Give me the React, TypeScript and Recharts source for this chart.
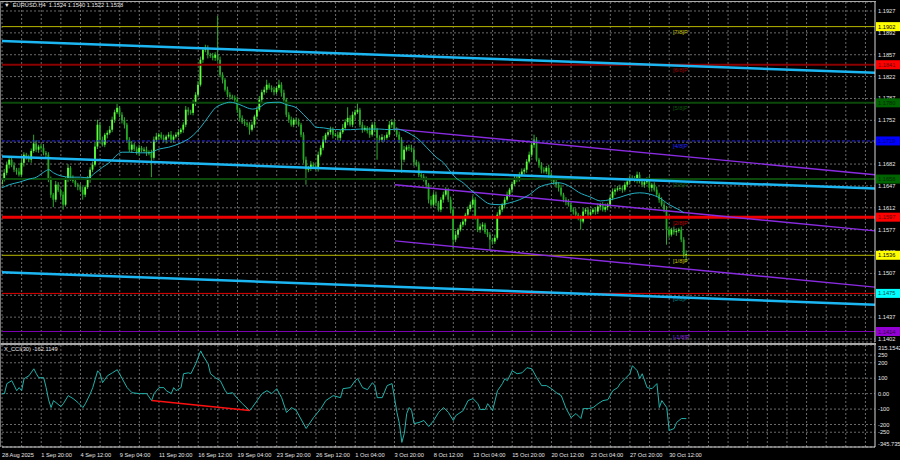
import React from "react";
import {
  ComposedChart,
  Bar,
  Line,
  XAxis,
  YAxis,
  CartesianGrid,
  ReferenceLine,
} from "recharts";

const FONT = "'Liberation Sans', Arial, sans-serif";
const BASE = 1.14;
const PIP = 0.0001;
const FIRST_OPEN = 250;
const XMAX = 355.9;
const Y_MIN = 1.13972;
const Y_MAX = 1.19414;

// H4 closes in pips above 1.1400, one per bar starting 28 Aug 08:00
const closes = [
  257, 268, 281, 289, 280, 273, 270, 265, 284, 297, 292, 289, 303, 315, 305, 310, 308, 300, 297, 257,
  233, 225, 249, 240, 233, 217, 257, 276, 260, 255, 249, 246, 241, 233, 245, 257, 273, 281, 310, 345,
  321, 313, 329, 332, 337, 353, 365, 372, 361, 352, 345, 321, 305, 313, 306, 301, 308, 304, 305, 300,
  301, 292, 321, 326, 329, 324, 321, 326, 329, 321, 326, 329, 333, 337, 345, 369, 366, 364, 380, 393,
  409, 449, 465, 468, 457, 455, 452, 457, 449, 425, 417, 401, 393, 390, 388, 385, 369, 356, 349, 347,
  345, 337, 345, 358, 369, 385, 397, 401, 409, 404, 401, 397, 404, 409, 396, 385, 361, 353, 345, 353,
  350, 345, 329, 289, 273, 276, 281, 278, 276, 297, 308, 321, 329, 333, 337, 329, 329, 324, 333, 340,
  349, 356, 345, 361, 365, 369, 345, 337, 340, 335, 329, 345, 337, 324, 321, 325, 324, 329, 345, 349,
  338, 329, 321, 289, 305, 309, 308, 305, 285, 281, 265, 262, 257, 249, 225, 217, 233, 220, 209, 225,
  233, 241, 225, 209, 161, 169, 177, 185, 190, 201, 210, 217, 225, 196, 177, 182, 185, 173, 169, 161,
  158, 164, 201, 209, 217, 225, 233, 241, 250, 257, 260, 265, 270, 273, 286, 297, 313, 321, 289, 280,
  273, 270, 276, 265, 257, 253, 249, 244, 233, 225, 221, 217, 209, 206, 201, 196, 190, 206, 209, 201,
  205, 209, 206, 214, 217, 209, 213, 217, 228, 238, 241, 243, 244, 241, 249, 254, 260, 258, 257, 265,
  254, 249, 253, 257, 244, 249, 241, 233, 225, 217, 209, 177, 169, 177, 173, 175, 177, 161, 137, 138,
];

// upper / lower shadow length in pips
const highWicks = [
  4, 6, 5, 3, 4, 5, 3, 6, 5, 4, 3, 5, 4, 14, 5, 3, 4, 6, 3, 4,
  5, 3, 6, 4, 3, 5, 4, 6, 3, 4, 5, 3, 4, 5, 3, 6, 4, 5, 6, 8,
  4, 5, 3, 4, 6, 5, 4, 7, 3, 4, 5, 3, 4, 6, 3, 4, 5, 3, 4, 5,
  3, 4, 5, 6, 3, 4, 5, 3, 4, 6, 3, 4, 5, 3, 4, 6, 4, 3, 5, 4,
  6, 5, 4, 5, 4, 3, 5, 4, 62, 5, 4, 3, 5, 4, 3, 4, 5, 3, 4, 5,
  3, 4, 5, 3, 4, 6, 4, 5, 8, 3, 4, 5, 3, 8, 4, 5, 3, 4, 5, 3,
  4, 5, 3, 4, 5, 3, 6, 4, 3, 5, 4, 6, 3, 4, 5, 4, 3, 5, 4, 6,
  5, 17, 4, 5, 4, 11, 3, 5, 4, 3, 6, 4, 5, 3, 4, 5, 3, 4, 6, 5,
  4, 3, 5, 4, 6, 3, 4, 5, 3, 4, 5, 3, 4, 5, 3, 6, 4, 5, 3, 4,
  5, 4, 3, 5, 4, 6, 3, 4, 5, 3, 4, 5, 6, 4, 3, 5, 4, 3, 5, 4,
  3, 5, 4, 6, 3, 4, 5, 3, 4, 6, 3, 4, 5, 3, 4, 5, 6, 8, 4, 3,
  5, 4, 3, 5, 4, 3, 6, 4, 5, 3, 4, 5, 3, 4, 5, 3, 4, 6, 3, 4,
  5, 3, 4, 5, 3, 4, 6, 3, 4, 5, 3, 4, 5, 3, 4, 6, 3, 4, 5, 5,
  4, 3, 5, 4, 6, 3, 4, 5, 3, 4, 5, 6, 4, 3, 5, 4, 3, 5, 4, 6,
];
const lowWicks = [
  5, 3, 4, 6, 3, 4, 5, 3, 4, 6, 3, 4, 5, 3, 4, 5, 3, 4, 6, 4,
  5, 12, 4, 3, 5, 8, 3, 4, 5, 3, 4, 6, 3, 8, 4, 3, 5, 4, 3, 4,
  5, 3, 4, 6, 3, 4, 5, 3, 4, 5, 6, 3, 4, 5, 3, 4, 6, 3, 4, 5,
  4, 31, 3, 4, 5, 3, 4, 6, 3, 4, 5, 3, 4, 3, 5, 4, 6, 3, 4, 5,
  4, 3, 5, 4, 6, 3, 4, 5, 3, 4, 6, 3, 4, 5, 3, 4, 5, 6, 3, 4,
  4, 8, 3, 5, 4, 3, 6, 4, 5, 3, 4, 5, 3, 4, 6, 3, 4, 5, 3, 4,
  5, 3, 4, 6, 24, 4, 5, 3, 4, 6, 3, 4, 5, 3, 4, 6, 3, 4, 5, 3,
  4, 5, 3, 4, 6, 3, 4, 5, 3, 4, 5, 3, 4, 35, 3, 4, 6, 3, 4, 5,
  3, 4, 5, 21, 4, 3, 5, 4, 6, 3, 4, 5, 3, 4, 6, 3, 4, 5, 3, 4,
  5, 3, 4, 6, 16, 4, 5, 3, 4, 6, 3, 4, 5, 3, 4, 5, 6, 3, 4, 16,
  5, 4, 3, 5, 4, 6, 3, 4, 5, 3, 4, 6, 3, 4, 5, 3, 4, 5, 3, 4,
  6, 3, 4, 5, 3, 4, 5, 6, 3, 4, 5, 3, 4, 5, 3, 4, 13, 3, 4, 5,
  4, 3, 5, 4, 6, 3, 4, 5, 3, 4, 6, 3, 4, 5, 3, 4, 5, 3, 4, 6,
  3, 4, 5, 3, 4, 6, 3, 4, 5, 3, 4, 24, 5, 3, 4, 6, 3, 4, 5, 12,
];

// moving average (bar index, pips above 1.1400)
const maBars = [
  0, 3, 7, 11, 14, 17, 19, 21, 24, 28, 32, 35, 38, 41, 44, 47, 49, 52, 56, 60,
  64, 68, 73, 77, 81, 84, 87, 90, 93, 97, 100, 102, 105, 108, 113, 116, 120, 123, 126, 128,
  131, 134, 138, 142, 146, 150, 154, 158, 161, 164, 167, 170, 173, 177, 180, 183, 185, 188, 191, 195,
  199, 203, 207, 211, 215, 219, 223, 227, 232, 235, 240, 244, 248, 252, 256, 260, 264, 268, 272, 276, 278,
];
const maValues = [
  244, 249, 253, 258, 261, 269, 273, 268, 263, 261, 261, 260, 268, 277, 285, 297, 301, 301, 300, 300,
  306, 309, 316, 325, 341, 357, 372, 378, 381, 377, 372, 370, 373, 380, 381, 377, 372, 361, 349, 341,
  340, 338, 337, 337, 338, 338, 338, 337, 338, 335, 329, 321, 309, 293, 284, 269, 260, 252, 241, 228,
  218, 217, 220, 225, 233, 245, 250, 252, 245, 237, 229, 223, 225, 229, 234, 236, 234, 228, 217, 209, 204,
];

// X_CCI(30)
const cciBars = [
  0, 1, 2, 4, 5, 6, 7, 8, 9, 11, 13, 14, 15, 17, 18, 19, 20, 21, 22, 24,
  25, 27, 29, 31, 33, 34, 36, 37, 39, 40, 41, 43, 45, 47, 49, 51, 53, 56, 59, 61,
  62, 64, 66, 67, 69, 70, 71, 73, 74, 76, 77, 79, 81, 82, 84, 85, 87, 89, 91, 92,
  94, 96, 98, 101, 102, 104, 106, 108, 110, 112, 114, 116, 118, 120, 124, 127, 130, 132, 135, 138,
  139, 142, 144, 145, 147, 149, 151, 152, 153, 155, 157, 159, 160, 161, 162, 163, 164, 165, 166, 167,
  168, 170, 172, 174, 176, 178, 180, 182, 184, 185, 188, 190, 192, 194, 195, 197, 198, 200, 202, 204,
  205, 206, 208, 210, 212, 214, 216, 218, 220, 222, 224, 226, 228, 230, 232, 234, 236, 237, 239, 241,
  243, 245, 247, 249, 251, 252, 254, 256, 257, 259, 260, 261, 263, 265, 267, 268, 269, 271, 272, 274,
  275, 277, 279,
];
const cciValues = [
  0, 0, 65, 84, 52, 19, 39, 19, 97, 116, 161, 129, 103, 103, 39, -40, -90, -45, -58, -84,
  -65, -13, -32, -58, -90, -65, 0, 39, 148, 129, 71, 116, 135, 155, 97, 39, 6, 0, 0, -45,
  0, 39, 39, 19, 0, 39, 19, 39, 129, 135, 129, 194, 277, 245, 194, 129, 103, 84, 19, 0,
  6, -32, -65, -110, -90, -45, 0, 19, 0, 32, -26, -122, -90, -110, -226, -155, -97, -45, -13, -26,
  32, 39, 84, 97, 39, 26, 71, 52, -26, -26, 52, 65, -26, -122, -194, -316, -258, -129, -90, -110,
  -194, -187, -174, -213, -174, -122, -90, -122, -174, -142, -110, -45, -32, -65, -103, -103, -65, -110, 19, 65,
  97, 84, 148, 129, 135, 168, 161, 103, 52, 52, 32, 6, -13, -97, -155, -129, -161, -97, -97, -90,
  -65, -45, -39, 19, 39, 65, 97, 129, 181, 148, 97, 129, 39, 32, 65, -90, -45, -90, -239, -226,
  -187, -161, -162,
];

const cciTicks = [315.1542, 250, 200, 100, 0, -100, -200, -250, -345.7356];
const cciTickLabels = ["315.1542", "250", "200", "100", "0.00", "-100", "-200", "-250", "-345.7356"];
const divergenceBars = [61, 101];
const divergenceValues = [-45, -110];

const priceTicks = [
  1.1927, 1.1892, 1.1857, 1.1822, 1.1787, 1.1752, 1.1717, 1.1682,
  1.1647, 1.1612, 1.1577, 1.1542, 1.1507, 1.1472, 1.1437, 1.1402,
];

// Murrey math levels
const levelPrices = [1.1902, 1.1841, 1.178, 1.1719, 1.1658, 1.1597, 1.1536, 1.1475, 1.1414];
const levelNames = ["[7/8]P", "[6/8]P", "[5/8]P", "[4/8]P", "[3/8]P", "[2/8]P", "[1/8]P", "[0/8]P", "[-1/8]P"];

// trend channels: [start bar, end bar] and pips above 1.1400 at those bars
const cyanBars = [0, XMAX];
const cyanTop = [479, 428];
const cyanMid = [294, 243];
const cyanBottom = [109, 57];
const purpleBars = [160.2, XMAX];
const purpleTop = [338, 265];
const purpleMid = [249, 175];
const purpleBottom = [159, 85];

const dateTicks = [0, 16, 32, 48, 64, 80, 96, 112, 128, 144, 160, 176, 192, 208, 224, 240, 256, 272];
const dateLabels = [
  "28 Aug 2025", "1 Sep 20:00", "4 Sep 12:00", "9 Sep 04:00", "11 Sep 20:00", "16 Sep 12:00",
  "19 Sep 04:00", "23 Sep 20:00", "26 Sep 12:00", "1 Oct 04:00", "3 Oct 20:00", "8 Oct 12:00",
  "13 Oct 04:00", "15 Oct 20:00", "20 Oct 12:00", "23 Oct 04:00", "27 Oct 20:00", "30 Oct 12:00",
];

const headerText = "EURUSD.H4  1.1524 1.1540 1.1522 1.1538";
const cciHeader = "X_CCI(30) -162.1149";

const LEVEL_STYLES = [
  { stroke: "#B8B800", width: 1, dash: undefined, badge: "#FFFF00", badgeText: "#000000", text: "#C8C800" },
  { stroke: "#8B0000", width: 2, dash: undefined, badge: "#FF0000", badgeText: "#600000", text: "#A00000" },
  { stroke: "#0B4A0B", width: 2, dash: undefined, badge: "#006400", badgeText: "#002800", text: "#0F5A0F" },
  { stroke: "#2222EE", width: 1, dash: "3 2", badge: "#0000FF", badgeText: "#000070", text: "#2424FF" },
  { stroke: "#0B4A0B", width: 2, dash: undefined, badge: "#006400", badgeText: "#002800", text: "#0F5A0F" },
  { stroke: "#EE0000", width: 3, dash: undefined, badge: "#FF0000", badgeText: "#600000", text: "#C00000" },
  { stroke: "#B8B800", width: 1, dash: undefined, badge: "#FFFF00", badgeText: "#000000", text: "#C8C800" },
  { stroke: "#E00000", width: 1, dash: undefined, badge: "#00FFFF", badgeText: "#004848", text: "#008B8B" },
  { stroke: "#7A00B0", width: 1, dash: undefined, badge: "#9400D3", badgeText: "#2A0040", text: "#8A2BE2" },
];

const toPrice = (p: number) => BASE + p * PIP;
const LABEL_BAR = 273.5;
const PLOT_LEFT = 2;
const PLOT_TOP = 2;
const PLOT_W = 873;
const PLOT_H = 340;
const gridXs: number[] = [];
for (let k = 0; k <= XMAX; k += 8) gridXs.push(PLOT_LEFT + (k / XMAX) * PLOT_W);
// pixel row of a price in the main panel (for the price badges drawn over the axis)
const yOf = (p: number) => PLOT_TOP + ((Y_MAX - p) / (Y_MAX - Y_MIN)) * PLOT_H;

const candles = closes.map((c, i) => {
  const o = i === 0 ? FIRST_OPEN : closes[i - 1];
  const hi = Math.max(o, c) + highWicks[i];
  const lo = Math.min(o, c) - lowWicks[i];
  return {
    bar: i,
    open: toPrice(o),
    close: toPrice(c),
    high: toPrice(hi),
    low: toPrice(lo),
    range: [toPrice(lo), toPrice(hi)],
  };
});
const maData = maBars.map((b, i) => ({ bar: b, ma: toPrice(maValues[i]) }));
const cciData = cciBars.map((b, i) => ({ bar: b, cci: cciValues[i] }));

const Candle = (props: any) => {
  const { x, y, width, height, payload } = props;
  if (!payload) return null;
  const { open, close, high, low } = payload;
  const top = Math.min(y, y + height);
  const h = Math.abs(height);
  const cx = x + width / 2;
  const per = h / (high - low);
  const bodyTop = top + (high - Math.max(open, close)) * per;
  const bodyH = Math.max(1, Math.abs(close - open) * per);
  const bull = close >= open;
  return (
    <g>
      <line x1={cx} x2={cx} y1={top} y2={top + h} stroke="#2FA82F" strokeWidth={1} />
      <rect x={cx - 0.9} y={bodyTop} width={1.8} height={bodyH} fill={bull ? "#5CFF3A" : "#24A824"} />
    </g>
  );
};

const PriceTick = (props: any) => {
  const { x, y, payload } = props;
  return (
    <text x={x} y={y + 2} fontSize={5.7} fill="#E6E6E6" fontFamily={FONT}>
      {payload.value.toFixed(4)}
    </text>
  );
};

const CciTick = (props: any) => {
  const { x, y, payload } = props;
  const i = cciTicks.indexOf(payload.value);
  const shift = i === 0 ? 2.5 : i === cciTicks.length - 1 ? -3 : 0;
  return (
    <text x={x} y={y + 2 + shift} fontSize={5.7} fill="#E6E6E6" fontFamily={FONT}>
      {cciTickLabels[i]}
    </text>
  );
};

const DateTick = (props: any) => {
  const { x, y, payload } = props;
  const i = dateTicks.indexOf(payload.value);
  return (
    <text x={x} y={y + 8} fontSize={5.7} fill="#E6E6E6" fontFamily={FONT}>
      {dateLabels[i]}
    </text>
  );
};

const levelLabel = (i: number) => (props: any) => {
  const vb = props.viewBox || {};
  const s = LEVEL_STYLES[i];
  const lx = vb.x + (LABEL_BAR / XMAX) * vb.width;
  return (
    <text x={lx} y={vb.y + 7.5} fontSize={5.7} fill={s.text} fontFamily={FONT}>
      {levelNames[i]}
    </text>
  );
};

const seg = (bars: number[], vals: number[]) => [
  { x: bars[0], y: toPrice(vals[0]) },
  { x: bars[1], y: toPrice(vals[1]) },
];

export default function App() {
  const axisX = PLOT_LEFT + PLOT_W;
  return (
    <div style={{ position: "relative", width: 900, height: 460, background: "#000", overflow: "hidden" }}>
      <style>{"body{margin:0;background:#000}"}</style>

      <div style={{ position: "absolute", left: 0, top: 0 }}>
        <ComposedChart
          width={900}
          height={344}
          data={candles}
          margin={{ top: 2, right: 0, bottom: 2, left: 2 }}
        >
          <CartesianGrid stroke="#6A6A6A" strokeDasharray="2 2" verticalPoints={gridXs} />
          <XAxis dataKey="bar" type="number" domain={[0, XMAX]} allowDataOverflow hide />
          <YAxis
            orientation="right"
            width={25}
            type="number"
            domain={[Y_MIN, Y_MAX]}
            allowDataOverflow
            ticks={priceTicks}
            interval={0}
            tick={PriceTick}
            tickLine={false}
            tickSize={0}
            tickMargin={3}
            axisLine={{ stroke: "#D8D8D8" }}
          />
          {levelPrices.map((p, i) => (
            <ReferenceLine
              key={p}
              y={p}
              stroke={LEVEL_STYLES[i].stroke}
              strokeWidth={LEVEL_STYLES[i].width}
              strokeDasharray={LEVEL_STYLES[i].dash}
              label={levelLabel(i)}
            />
          ))}
          <ReferenceLine segment={seg(cyanBars, cyanTop)} stroke="#1CB6F2" strokeWidth={2.5} ifOverflow="visible" />
          <ReferenceLine segment={seg(cyanBars, cyanMid)} stroke="#1CB6F2" strokeWidth={2.5} ifOverflow="visible" />
          <ReferenceLine segment={seg(cyanBars, cyanBottom)} stroke="#1CB6F2" strokeWidth={2.5} ifOverflow="visible" />
          <ReferenceLine segment={seg(purpleBars, purpleTop)} stroke="#8A2BE2" strokeWidth={1.4} ifOverflow="visible" />
          <ReferenceLine segment={seg(purpleBars, purpleMid)} stroke="#8A2BE2" strokeWidth={1.4} ifOverflow="visible" />
          <ReferenceLine segment={seg(purpleBars, purpleBottom)} stroke="#8A2BE2" strokeWidth={1.4} ifOverflow="visible" />
          <Bar
            dataKey="range"
            barSize={2}
            shape={(p: any) => <Candle {...p} />}
            isAnimationActive={false}
          />
          <Line
            data={maData}
            dataKey="ma"
            type="monotone"
            stroke="#22B0C4"
            strokeWidth={1}
            dot={false}
            activeDot={false}
            isAnimationActive={false}
          />
        </ComposedChart>
      </div>

      <div style={{ position: "absolute", left: 0, top: 344 }}>
        <ComposedChart
          width={900}
          height={116}
          data={cciData}
          margin={{ top: 1, right: 0, bottom: 0, left: 2 }}
        >
          <CartesianGrid stroke="#6A6A6A" strokeDasharray="2 2" verticalPoints={gridXs} />
          <XAxis
            dataKey="bar"
            type="number"
            domain={[0, XMAX]}
            allowDataOverflow
            ticks={dateTicks}
            interval={0}
            tick={DateTick}
            tickLine={false}
            tickSize={0}
            height={13}
            axisLine={{ stroke: "#D8D8D8" }}
          />
          <YAxis
            orientation="right"
            width={25}
            type="number"
            domain={[-345.7356, 315.1542]}
            allowDataOverflow
            ticks={cciTicks}
            interval={0}
            tick={CciTick}
            tickLine={false}
            tickSize={0}
            tickMargin={3}
            axisLine={{ stroke: "#D8D8D8" }}
          />
          <Line
            dataKey="cci"
            type="linear"
            stroke="#20B2AA"
            strokeWidth={1}
            dot={false}
            activeDot={false}
            isAnimationActive={false}
          />
          <ReferenceLine
            segment={[
              { x: divergenceBars[0], y: divergenceValues[0] },
              { x: divergenceBars[1], y: divergenceValues[1] },
            ]}
            stroke="#FF1010"
            strokeWidth={1.5}
          />
        </ComposedChart>
      </div>

      {/* price badges of the levels, drawn over the axis labels */}
      <svg width={900} height={344} style={{ position: "absolute", left: 0, top: 0, pointerEvents: "none" }}>
        {levelPrices.map((p, i) => {
          const s = LEVEL_STYLES[i];
          const y = yOf(p);
          return (
            <g key={p}>
              <rect x={axisX + 1} y={y - 4.5} width={24} height={9} fill={s.badge} />
              <text x={axisX + 3} y={y + 2} fontSize={5.7} fill={s.badgeText} fontFamily={FONT}>
                {p.toFixed(4)}
              </text>
            </g>
          );
        })}
      </svg>

      {/* panel frames */}
      <div style={{ position: "absolute", left: 0, top: 1, width: 875, height: 341, borderTop: "1px solid #A8A8A8", borderLeft: "1px solid #777", borderBottom: "1px solid #A8A8A8", pointerEvents: "none" }} />
      <div style={{ position: "absolute", left: 0, top: 344, width: 875, height: 102, borderTop: "1px solid #A8A8A8", borderLeft: "1px solid #777", pointerEvents: "none" }} />

      <div style={{ position: "absolute", left: 4, top: 2, fontFamily: FONT, fontSize: 5.7, color: "#E8E8E8", whiteSpace: "pre" }}>
        {"\u25BC  " + headerText}
      </div>
      <div style={{ position: "absolute", left: 4, top: 346, fontFamily: FONT, fontSize: 5.7, color: "#E8E8E8", whiteSpace: "pre" }}>
        {cciHeader}
      </div>
    </div>
  );
}
